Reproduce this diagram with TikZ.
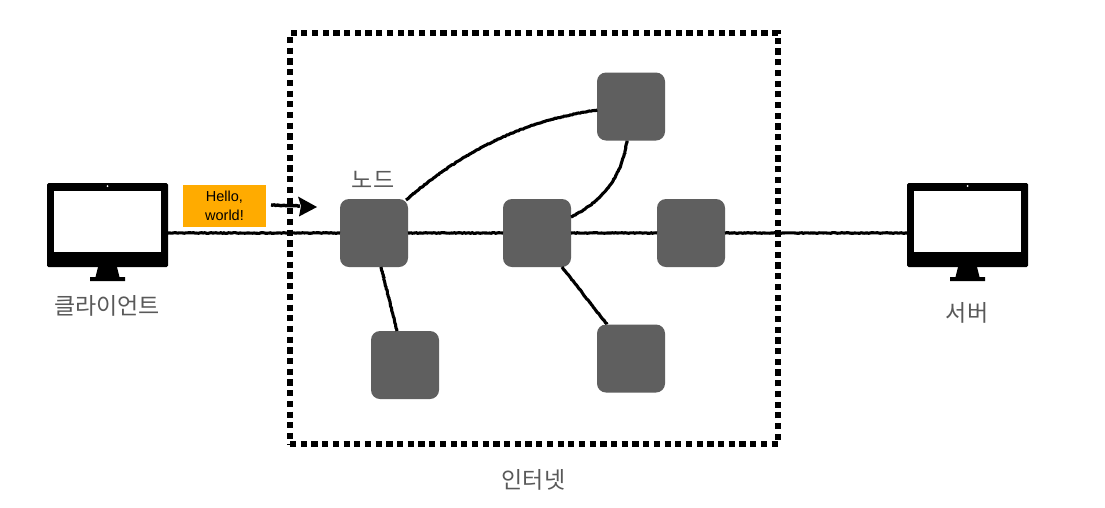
\documentclass[tikz,border=0pt]{standalone}
\usepackage{fontspec}
\setmainfont{Liberation Sans}
\newfontfamily\krfont{Noto Sans CJK KR}
\usetikzlibrary{decorations.pathmorphing,calc}
\pgfmathsetseed{7}
\definecolor{nodegray}{HTML}{5F5F5F}
\definecolor{labelgray}{HTML}{595959}
\definecolor{msgorange}{HTML}{FFAB00}
\tikzset{
  netnode/.style={draw=none,fill=nodegray,rounded corners=9pt,minimum width=68pt,minimum height=68pt,inner sep=0pt,outer sep=0pt},
  link/.style={draw=black,line width=3.1pt,decoration={random steps,segment length=1.6pt,amplitude=0.35pt},decorate},
  krlabel/.style={font=\krfont\fontsize{23}{27}\selectfont,text=labelgray,inner sep=0pt},
  body/.style={fill=black,rounded corners=1.5pt,minimum width=121pt,minimum height=84pt,inner sep=0pt,outer sep=0pt},
  screen/.style={fill=white,minimum width=107pt,minimum height=61pt,inner sep=0pt},
  frame/.style={draw=black,line width=6.5pt,dash pattern=on 6.2pt off 4.5pt,minimum width=488pt,minimum height=411pt,inner sep=0pt},
  message/.style={fill=msgorange,minimum width=83pt,minimum height=42pt,inner sep=0pt,align=center,font=\fontsize{14.5}{18.5}\selectfont}
}
\newcommand{\monitorparts}[1]{%
  \fill ($(#1.center)+(-9.5,42)$) -- ($(#1.center)+(9.5,42)$) -- ($(#1.center)+(12,52)$) -- ($(#1.center)+(17.5,52)$) -- ($(#1.center)+(17.5,56)$) -- ($(#1.center)+(-17.5,56)$) -- ($(#1.center)+(-17.5,52)$) -- ($(#1.center)+(-12,52)$) -- cycle;
  \node[screen] at ($(#1.center)+(0,-3.5)$) {};
  \fill[white] ($(#1.center)+(0,-39)$) circle (1pt);
}
\begin{document}
\begin{tikzpicture}[x=1pt,y=-1pt]
\useasboundingbox (0,0) rectangle (1105,507);
\fill[white] (0,0) rectangle (1105,507);
% frame
\node[frame] (net) at (534,238.5) {};
% nodes
\node[netnode] (n1) at (374,233) {};
\node[netnode] (n2) at (537,233) {};
\node[netnode] (n3) at (691,233) {};
\node[netnode] (top) at (631,106.5) {};
\node[netnode] (b1) at (405,365) {};
\node[netnode] (b2) at (631,358.5) {};
% monitors
\node[body] (client) at (107.5,225) {};
\monitorparts{client}
\node[body] (server) at (967.5,225) {};
\monitorparts{server}
% links
\draw[link] (client.east |- n1.west) -- (n1.west);
\draw[link] (n1.east) -- (n2.west);
\draw[link] (n2.east) -- (n3.west);
\draw[link] (n3.east) -- (server.west |- n3.east);
\draw[link] ($(n1.north east)+(-2,1)$) .. controls (470,145) and (530,120) .. (top.west |- 0,110);
\draw[link] ($(n2.east)+(0,-16)$) .. controls (605,200) and (622,175) .. ($(top.south)+(-4,0)$);
\draw[link] ($(n1.south)+(7,0)$) -- ($(b1.north)+(-8,0)$);
\draw[link] ($(n2.south)+(25,0)$) -- ($(b2.north)+(-24,0)$);
% message
\node[message] (msg) at (224.5,206) {Hello,\\world!};
\coordinate (arrowstart) at (271,205);
\coordinate (arrowtip) at (317,207);
\draw[link,line width=3.4pt] (arrowstart) -- (300,206);
\fill[black] (298,196.5) -- (arrowtip) -- (299,216.5) -- (301,206) -- cycle;
% labels
\node[krlabel] (lclient) at (107,306) {클라이언트};
\node[krlabel] (lserver) at (967,313) {서버};
\node[krlabel] (lnode) at (373,179.5) {노드};
\node[krlabel] (lnet) at (533.5,479.5) {인터넷};
\end{tikzpicture}
\end{document}
